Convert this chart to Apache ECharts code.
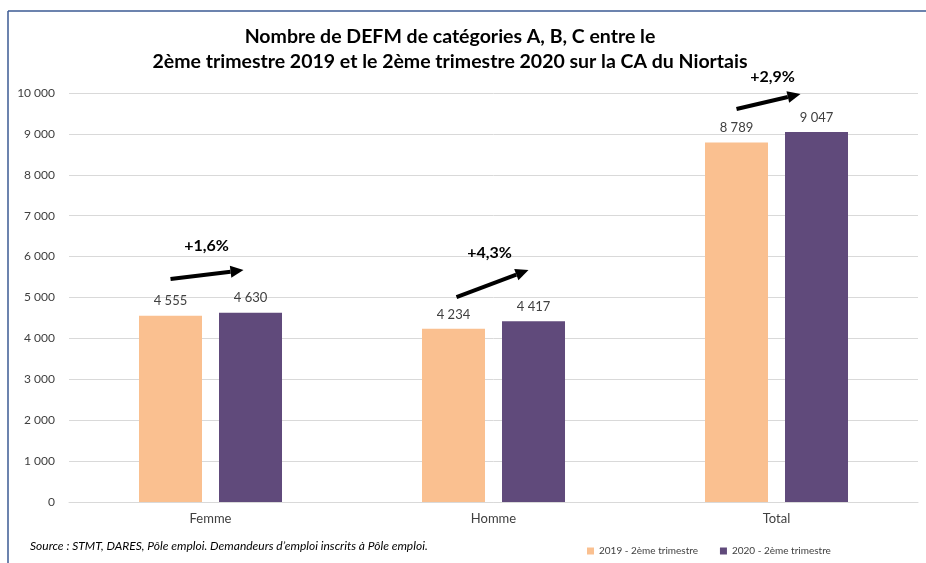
<!DOCTYPE html>
<html>
<head>
<meta charset="utf-8">
<script src="https://cdn.jsdelivr.net/npm/echarts@6/dist/echarts.min.js"></script>
<style>
  html, body { margin: 0; padding: 0; background: #fff; }
  #container { width: 926px; height: 563px; }
</style>
</head>
<body>
<div id="container"></div>
<script>
var categories = ['Femme', 'Homme', 'Total'];
var serie2019 = [4555, 4234, 8789];
var serie2020 = [4630, 4417, 9047];
var evolutions = ['+1,6%', '+4,3%', '+2,9%'];
// fleches : valeur de depart, valeur d'arrivee, hauteur du texte (unites de l'axe)
var flecheDebut = [5450, 5010, 9610];
var flecheFin = [5670, 5670, 9975];
var texteHauteur = [6260, 6090, 10390];

function formatNombre(v) {
    return String(v).replace(/\B(?=(\d{3})+(?!\d))/g, ' ');
}

var myChart = echarts.init(document.getElementById('container'));

var police = 'Lato, "Open Sans", sans-serif';

var option = {
    animation: false,
    title: {
        text: 'Nombre de DEFM de catégories A, B, C entre le\n2ème trimestre 2019 et le 2ème trimestre 2020 sur la CA du Niortais',
        left: 445,
        textAlign: 'center',
        top: 19,
        textStyle: {
            fontFamily: police,
            fontWeight: 'bold',
            fontSize: 19.5,
            lineHeight: 25,
            color: '#000'
        }
    },
    legend: {
        data: ['2019 - 2ème trimestre', '2020 - 2ème trimestre'],
        left: 582,
        top: 541,
        itemWidth: 7,
        itemHeight: 7,
        itemGap: 22,
        icon: 'rect',
        textStyle: { fontFamily: police, fontSize: 10, color: '#404040' }
    },
    grid: {
        left: 69,
        right: 8,
        top: 93,
        bottom: 61
    },
    xAxis: [{
        type: 'category',
        data: categories,
        axisTick: { show: false },
        axisLine: { lineStyle: { color: '#D9D9D9' } },
        axisLabel: { fontFamily: police, fontSize: 13, color: '#404040', margin: 10 }
    }],
    yAxis: [{
        type: 'value',
        min: 0,
        max: 10000,
        interval: 1000,
        axisLine: { show: false },
        axisTick: { show: false },
        splitLine: { lineStyle: { color: '#D9D9D9' } },
        axisLabel: {
            fontFamily: police, fontSize: 12, color: '#404040', margin: 14,
            formatter: formatNombre
        }
    }],
    series: [
        {
            name: '2019 - 2ème trimestre',
            type: 'bar',
            data: serie2019,
            barWidth: 63,
            barGap: '27%',
            itemStyle: { color: '#FAC090' },
            label: {
                show: true, position: 'top', distance: 8,
                fontFamily: police, fontSize: 13, color: '#404040',
                formatter: function (p) { return formatNombre(p.value); }
            }
        },
        {
            name: '2020 - 2ème trimestre',
            type: 'bar',
            data: serie2020,
            barWidth: 63,
            barGap: '27%',
            itemStyle: { color: '#604A7B' },
            label: {
                show: true, position: 'top', distance: 8,
                fontFamily: police, fontSize: 13, color: '#404040',
                formatter: function (p) { return formatNombre(p.value); }
            }
        }
    ]
};

myChart.setOption(option);

// cadre, source et fleches d'evolution
var elements = [
    { type: 'line', shape: { x1: 8, y1: 11, x2: 926, y2: 11 }, style: { stroke: '#3B5A93', lineWidth: 1.5 } },
    { type: 'line', shape: { x1: 8, y1: 11, x2: 8, y2: 563 }, style: { stroke: '#3B5A93', lineWidth: 1.5 } },
    {
        type: 'text', left: 30, top: 540,
        style: {
            text: 'Source : STMT, DARES, Pôle emploi. Demandeurs d\u2019emploi inscrits à Pôle emploi.',
            fontFamily: police, fontStyle: 'italic', fontSize: 12, fill: '#000'
        }
    }
];

var decalDebut = [-40, -37, -40];
var decalFin = [33, 35, 24];
for (var i = 0; i < categories.length; i++) {
    var cx = myChart.convertToPixel({ xAxisIndex: 0 }, categories[i]);
    var y1 = myChart.convertToPixel({ yAxisIndex: 0 }, flecheDebut[i]);
    var y2 = myChart.convertToPixel({ yAxisIndex: 0 }, flecheFin[i]);
    var yt = myChart.convertToPixel({ yAxisIndex: 0 }, texteHauteur[i]);
    var x1 = cx + decalDebut[i];
    var x2 = cx + decalFin[i];
    var ang = Math.atan2(y2 - y1, x2 - x1);
    var len = 13, larg = 6;
    var bx = x2 - len * Math.cos(ang), by = y2 - len * Math.sin(ang);
    elements.push({
        type: 'line',
        shape: { x1: x1, y1: y1, x2: bx, y2: by },
        style: { stroke: '#000', lineWidth: 4 }
    });
    elements.push({
        type: 'polygon',
        shape: {
            points: [
                [x2, y2],
                [bx + larg * Math.sin(ang), by - larg * Math.cos(ang)],
                [bx - larg * Math.sin(ang), by + larg * Math.cos(ang)]
            ]
        },
        style: { fill: '#000' }
    });
    elements.push({
        type: 'text',
        x: cx - 4, y: yt,
        style: {
            text: evolutions[i], fontFamily: police, fontWeight: 'bold', fontSize: 16,
            fill: '#000', align: 'center', verticalAlign: 'middle'
        }
    });
}

myChart.setOption({ graphic: elements });
</script>
</body>
</html>
